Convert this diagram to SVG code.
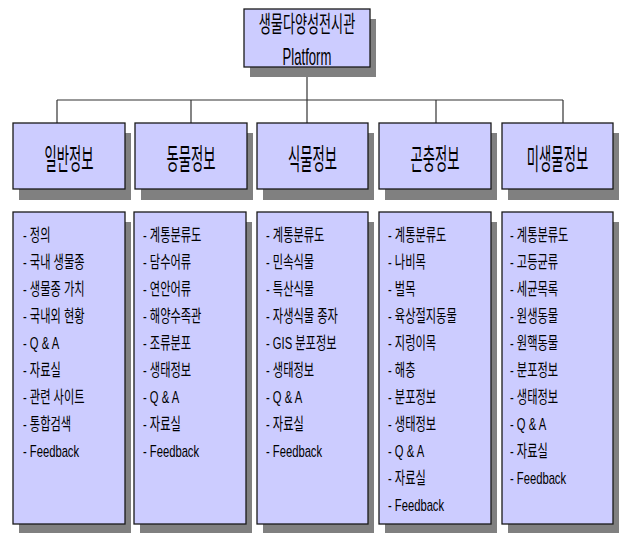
<svg xmlns="http://www.w3.org/2000/svg" width="623" height="533" viewBox="0 0 623 533">
<style>
  .shadow { fill: #808080; }
  .box { fill: #CCCCFF; stroke: #1a1a1a; stroke-width: 1.3; }
  .conn { stroke: #333333; stroke-width: 1.2; fill: none; }
  text { font-family: "Liberation Sans", "Noto Sans CJK KR", sans-serif; fill: #000000; }
  .title { font-size: 23px; text-anchor: middle; }
  .head { font-size: 29px; text-anchor: middle; }
  .item { font-size: 17px; }
</style>
<rect width="623" height="533" fill="#ffffff"/>

<g id="connectors">
  <line class="conn" x1="307" y1="67" x2="307" y2="100"/>
  <line class="conn" x1="57" y1="100" x2="563" y2="100"/>
  <line class="conn" x1="57" y1="100" x2="57" y2="123"/>
  <line class="conn" x1="191" y1="100" x2="191" y2="123"/>
  <line class="conn" x1="307" y1="100" x2="307" y2="123"/>
  <line class="conn" x1="436" y1="100" x2="436" y2="123"/>
  <line class="conn" x1="563" y1="100" x2="563" y2="123"/>
</g>

<g id="root">
  <rect class="shadow" x="250" y="19" width="126" height="58"/>
  <rect class="box" x="244" y="9" width="126" height="58"/>
  <text class="title" transform="translate(307,32) scale(0.57,1)">생물다양성전시관</text>
  <text class="title" transform="translate(307,65) scale(0.57,1)">Platform</text>
</g>

<g id="head1">
  <rect class="shadow" x="19" y="133" width="112" height="67"/>
  <rect class="box" x="13" y="123" width="112" height="66"/>
  <text class="head" transform="translate(69,170) scale(0.46,1)">일반정보</text>
</g>
<g id="head2">
  <rect class="shadow" x="141" y="133" width="112" height="67"/>
  <rect class="box" x="135" y="123" width="112" height="66"/>
  <text class="head" transform="translate(191,170) scale(0.46,1)">동물정보</text>
</g>
<g id="head3">
  <rect class="shadow" x="263" y="133" width="111" height="67"/>
  <rect class="box" x="257" y="123" width="111" height="66"/>
  <text class="head" transform="translate(312.5,170) scale(0.46,1)">식물정보</text>
</g>
<g id="head4">
  <rect class="shadow" x="385" y="133" width="112" height="67"/>
  <rect class="box" x="379" y="123" width="112" height="66"/>
  <text class="head" transform="translate(435,170) scale(0.46,1)">곤충정보</text>
</g>
<g id="head5">
  <rect class="shadow" x="508" y="133" width="111" height="67"/>
  <rect class="box" x="502" y="123" width="111" height="66"/>
  <text class="head" transform="translate(557.5,170) scale(0.46,1)">미생물정보</text>
</g>

<g id="list1">
  <rect class="shadow" x="19" y="222" width="112" height="312"/>
  <rect class="box" x="13" y="212" width="112" height="312"/>
  <g transform="translate(23,0) scale(0.66,1)">
    <text class="item" y="241">- 정의</text>
    <text class="item" y="268">- 국내 생물종</text>
    <text class="item" y="295">- 생물종 가치</text>
    <text class="item" y="322">- 국내외 현황</text>
    <text class="item" y="349">- Q &amp; A</text>
    <text class="item" y="376">- 자료실</text>
    <text class="item" y="403">- 관련 사이트</text>
    <text class="item" y="430">- 통합검색</text>
    <text class="item" y="457">- Feedback</text>
  </g>
</g>
<g id="list2">
  <rect class="shadow" x="140" y="222" width="112" height="312"/>
  <rect class="box" x="134" y="212" width="112" height="312"/>
  <g transform="translate(143,0) scale(0.66,1)">
    <text class="item" y="241">- 계통분류도</text>
    <text class="item" y="268">- 담수어류</text>
    <text class="item" y="295">- 연안어류</text>
    <text class="item" y="322">- 해양수족관</text>
    <text class="item" y="349">- 조류분포</text>
    <text class="item" y="376">- 생태정보</text>
    <text class="item" y="403">- Q &amp; A</text>
    <text class="item" y="430">- 자료실</text>
    <text class="item" y="457">- Feedback</text>
  </g>
</g>
<g id="list3">
  <rect class="shadow" x="263" y="222" width="111" height="312"/>
  <rect class="box" x="257" y="212" width="111" height="312"/>
  <g transform="translate(266,0) scale(0.66,1)">
    <text class="item" y="241">- 계통분류도</text>
    <text class="item" y="268">- 민속식물</text>
    <text class="item" y="295">- 특산식물</text>
    <text class="item" y="322">- 자생식물 종자</text>
    <text class="item" y="349">- GIS 분포정보</text>
    <text class="item" y="376">- 생태정보</text>
    <text class="item" y="403">- Q &amp; A</text>
    <text class="item" y="430">- 자료실</text>
    <text class="item" y="457">- Feedback</text>
  </g>
</g>
<g id="list4">
  <rect class="shadow" x="385" y="222" width="112" height="312"/>
  <rect class="box" x="379" y="212" width="112" height="312"/>
  <g transform="translate(388,0) scale(0.66,1)">
    <text class="item" y="241">- 계통분류도</text>
    <text class="item" y="268">- 나비목</text>
    <text class="item" y="295">- 벌목</text>
    <text class="item" y="322">- 육상절지동물</text>
    <text class="item" y="349">- 지렁이목</text>
    <text class="item" y="376">- 해충</text>
    <text class="item" y="403">- 분포정보</text>
    <text class="item" y="430">- 생태정보</text>
    <text class="item" y="457">- Q &amp; A</text>
    <text class="item" y="484">- 자료실</text>
    <text class="item" y="511">- Feedback</text>
  </g>
</g>
<g id="list5">
  <rect class="shadow" x="508" y="222" width="111" height="312"/>
  <rect class="box" x="502" y="212" width="111" height="312"/>
  <g transform="translate(510,0) scale(0.66,1)">
    <text class="item" y="241">- 계통분류도</text>
    <text class="item" y="268">- 고등균류</text>
    <text class="item" y="295">- 세균목록</text>
    <text class="item" y="322">- 원생동물</text>
    <text class="item" y="349">- 원핵동물</text>
    <text class="item" y="376">- 분포정보</text>
    <text class="item" y="403">- 생태정보</text>
    <text class="item" y="430">- Q &amp; A</text>
    <text class="item" y="457">- 자료실</text>
    <text class="item" y="484">- Feedback</text>
  </g>
</g>
</svg>
